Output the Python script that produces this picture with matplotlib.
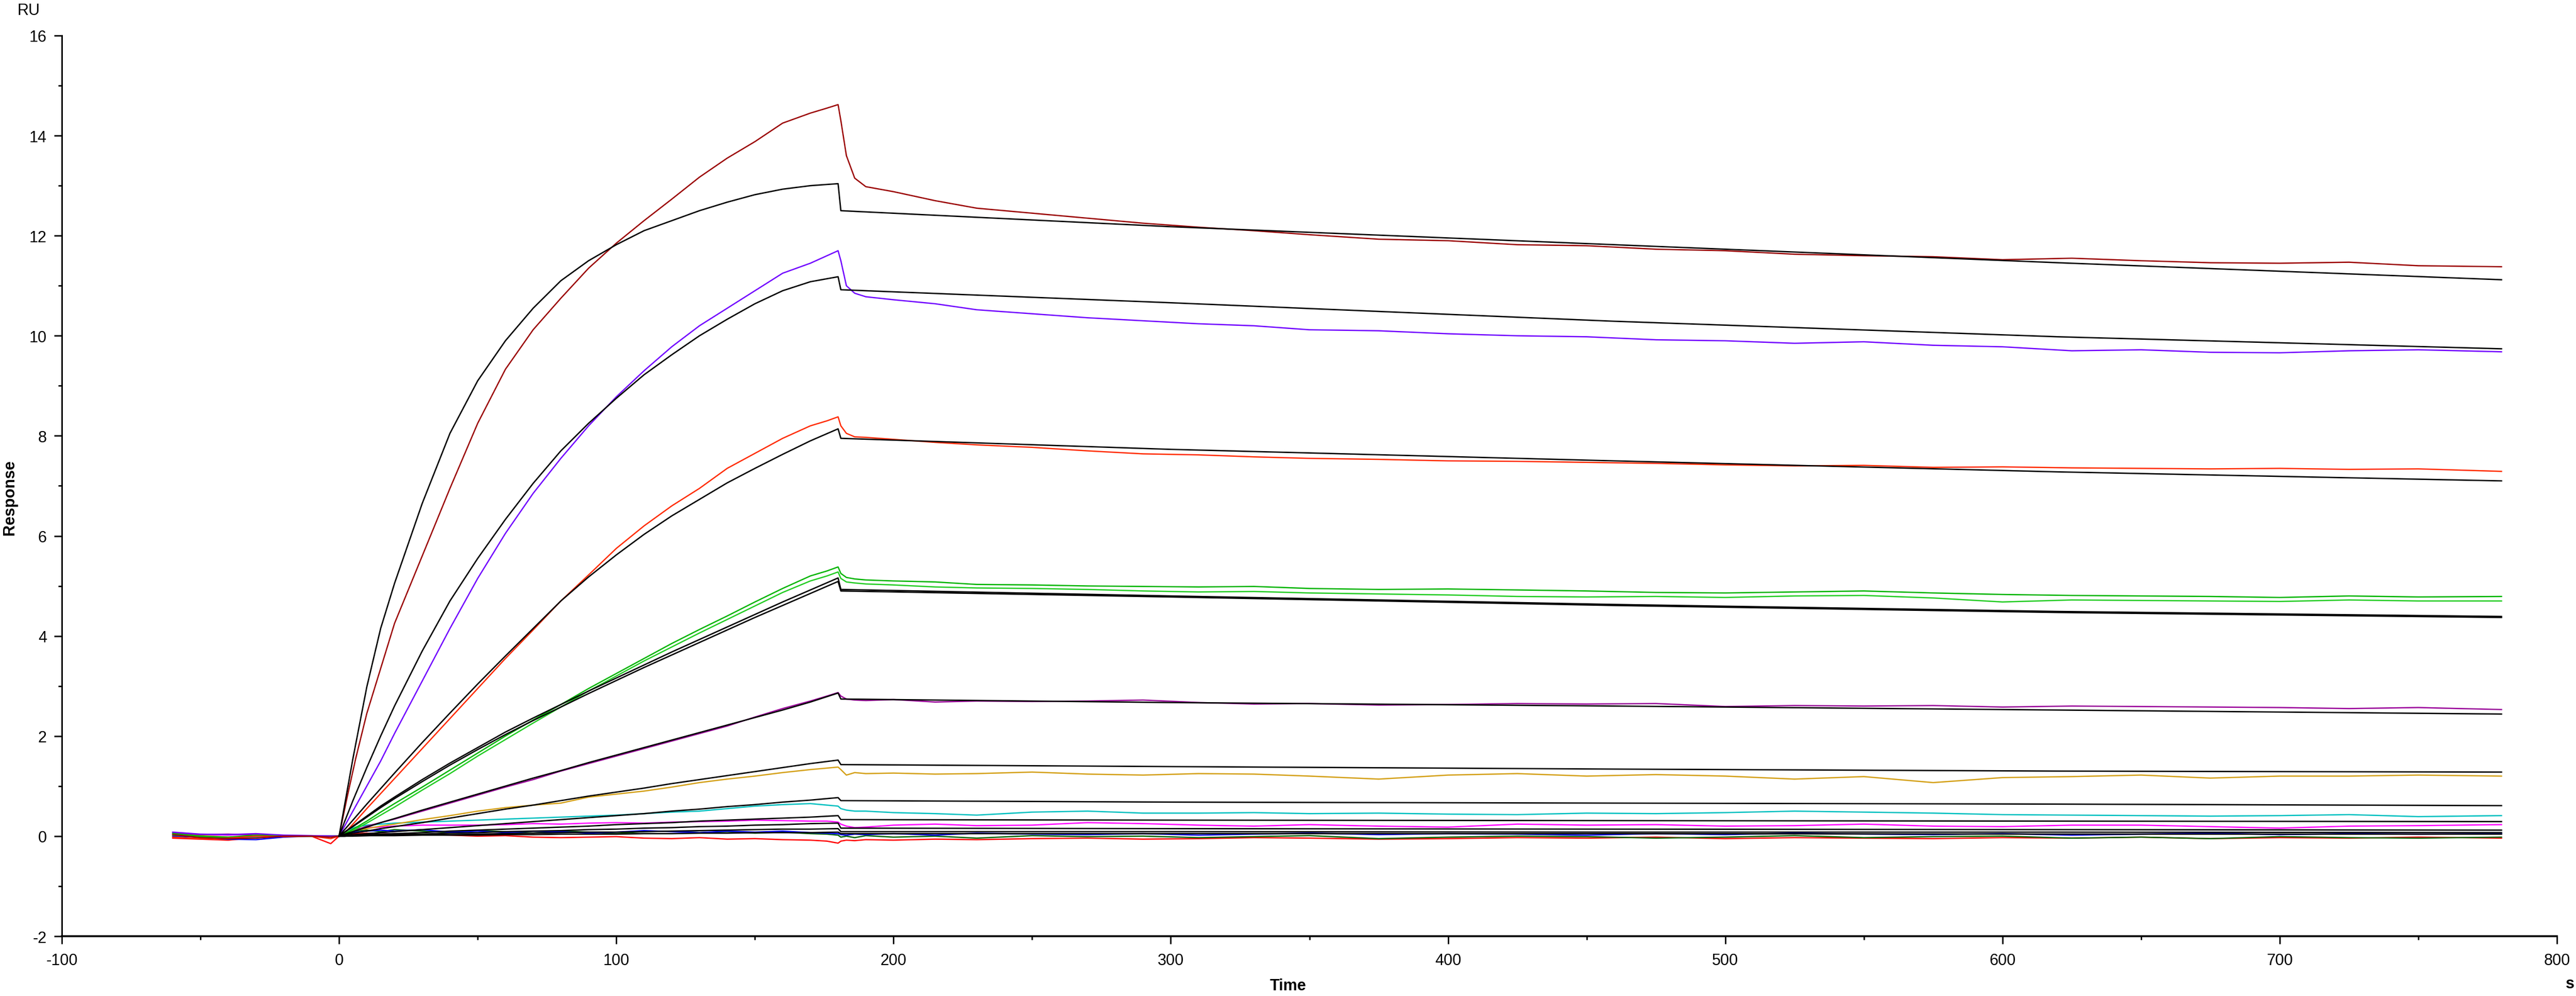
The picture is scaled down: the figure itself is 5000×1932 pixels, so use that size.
import matplotlib
matplotlib.use("Agg")
import matplotlib.pyplot as plt
from matplotlib.ticker import MultipleLocator

plt.rcParams['font.family'] = ['Liberation Sans', 'DejaVu Sans']
plt.rcParams['axes.unicode_minus'] = False

# time grid of the measured curves (s)
t_base = [-60, -50, -40, -30, -20, -10, -3, 0]
t_assoc = [3, 6, 10, 15, 20, 30, 40, 50, 60, 70, 80, 90, 100, 110, 120, 130, 140, 150, 160, 170, 176, 180]
t_diss = [181, 183, 186, 190, 200, 215, 230, 250, 270, 290, 310, 330, 350, 375, 400, 425, 450, 475,
          500, 525, 550, 575, 600, 625, 650, 675, 700, 725, 750, 780]

# measured responses (RU): baseline + association + dissociation
darkred = [0.03, -0.03, -0.05, -0.04, 0.0, 0.0, -0.02, 0.0,
           0.8, 1.55, 2.45, 3.35, 4.25, 5.6, 6.95, 8.25, 9.33, 10.12, 10.75, 11.35, 11.85, 12.3, 12.73,
           13.17, 13.55, 13.88, 14.25, 14.45, 14.55, 14.62,
           14.3, 13.6, 13.15, 12.98, 12.88, 12.7, 12.55, 12.45, 12.35, 12.25, 12.17, 12.1, 12.02, 11.93,
           11.9, 11.82, 11.8, 11.73, 11.7, 11.63, 11.6, 11.58, 11.52, 11.55, 11.5, 11.46, 11.45, 11.47,
           11.4, 11.38]
violet = [0.08, 0.04, 0.03, 0.05, 0.02, 0.01, 0.0, 0.0,
          0.3, 0.6, 1.0, 1.5, 2.05, 3.1, 4.15, 5.15, 6.05, 6.85, 7.55, 8.2, 8.78, 9.3, 9.78, 10.2, 10.55,
          10.9, 11.25, 11.45, 11.6, 11.7,
          11.5, 11.0, 10.85, 10.78, 10.72, 10.64, 10.52, 10.44, 10.36, 10.3, 10.24, 10.2, 10.12, 10.1,
          10.04, 10.0, 9.98, 9.92, 9.9, 9.85, 9.88, 9.81, 9.78, 9.7, 9.72, 9.67, 9.66, 9.7, 9.72, 9.68]
redorange = [-0.02, -0.05, -0.04, 0.0, -0.01, 0.0, -0.05, 0.0,
             0.12, 0.3, 0.55, 0.85, 1.15, 1.75, 2.35, 2.95, 3.55, 4.12, 4.7, 5.22, 5.75, 6.2, 6.6,
             6.95, 7.35, 7.65, 7.95, 8.2, 8.3, 8.38,
             8.2, 8.05, 7.98, 7.97, 7.93, 7.87, 7.82, 7.77, 7.7, 7.64, 7.62, 7.58, 7.55, 7.53, 7.5,
             7.49, 7.47, 7.45, 7.42, 7.4, 7.41, 7.37, 7.38, 7.36, 7.35, 7.34, 7.35, 7.33, 7.34, 7.29]
greenA = [0.05, 0.0, -0.02, 0.02, 0.0, 0.0, 0.0, 0.0,
          0.08, 0.17, 0.3, 0.48, 0.65, 0.98, 1.32, 1.66, 2.0, 2.32, 2.63, 2.95, 3.25, 3.55, 3.85,
          4.13, 4.4, 4.68, 4.95, 5.2, 5.3, 5.38,
          5.25, 5.17, 5.14, 5.12, 5.1, 5.08, 5.03, 5.02, 5.0, 4.99, 4.98, 4.99, 4.95, 4.93, 4.94,
          4.92, 4.9, 4.87, 4.86, 4.88, 4.9, 4.86, 4.83, 4.81, 4.8, 4.79, 4.77, 4.8, 4.78, 4.79]
greenB = [0.02, -0.01, -0.03, 0.0, 0.01, 0.0, -0.01, 0.0,
          0.06, 0.14, 0.26, 0.42, 0.58, 0.92, 1.25, 1.6, 1.93, 2.26, 2.58, 2.9, 3.2, 3.5, 3.78,
          4.06, 4.33, 4.6, 4.87, 5.1, 5.2, 5.28,
          5.15, 5.08, 5.06, 5.04, 5.02, 4.98, 4.96, 4.95, 4.93, 4.9, 4.88, 4.89, 4.86, 4.84, 4.82,
          4.79, 4.78, 4.79, 4.77, 4.8, 4.81, 4.76, 4.68, 4.72, 4.71, 4.7, 4.69, 4.72, 4.7, 4.7]
purple = [0.07, 0.03, 0.04, 0.02, 0.01, 0.0, 0.0, 0.0,
          0.06, 0.12, 0.2, 0.27, 0.34, 0.5, 0.66, 0.82, 0.98, 1.13, 1.3, 1.45, 1.6, 1.75, 1.9,
          2.05, 2.2, 2.38, 2.55, 2.7, 2.8, 2.87,
          2.8, 2.74, 2.72, 2.71, 2.73, 2.68, 2.7, 2.69, 2.7, 2.72, 2.67, 2.64, 2.65, 2.62, 2.63,
          2.65, 2.64, 2.65, 2.59, 2.61, 2.6, 2.61, 2.58, 2.6, 2.59, 2.58, 2.57, 2.55, 2.57, 2.53]
gold = [0.04, 0.01, -0.02, 0.0, 0.01, 0.0, 0.0, 0.0,
        0.08, 0.12, 0.15, 0.2, 0.24, 0.33, 0.41, 0.5, 0.57, 0.62, 0.66, 0.78, 0.84, 0.9, 0.98,
        1.07, 1.14, 1.2, 1.27, 1.33, 1.36, 1.38,
        1.33, 1.22, 1.27, 1.25, 1.26, 1.24, 1.25, 1.28, 1.24, 1.22, 1.25, 1.24, 1.2, 1.14, 1.22,
        1.25, 1.2, 1.23, 1.2, 1.14, 1.19, 1.07, 1.17, 1.19, 1.22, 1.16, 1.2, 1.2, 1.22, 1.2]
cyan = [0.03, 0.0, -0.03, -0.02, 0.0, 0.0, 0.0, 0.0,
        0.12, 0.18, 0.22, 0.24, 0.26, 0.28, 0.3, 0.32, 0.34, 0.36, 0.38, 0.4, 0.42, 0.45, 0.48,
        0.5, 0.55, 0.6, 0.63, 0.65, 0.62, 0.6,
        0.55, 0.52, 0.5, 0.5, 0.47, 0.45, 0.42, 0.48, 0.5, 0.46, 0.46, 0.47, 0.45, 0.46, 0.44,
        0.43, 0.46, 0.45, 0.47, 0.5, 0.48, 0.46, 0.43, 0.42, 0.41, 0.4, 0.41, 0.43, 0.39, 0.41]
magenta = [0.06, 0.03, 0.02, 0.04, 0.01, 0.0, 0.0, 0.0,
           0.08, 0.14, 0.17, 0.18, 0.2, 0.22, 0.22, 0.22, 0.23, 0.25, 0.24, 0.26, 0.27, 0.26, 0.28,
           0.29, 0.3, 0.32, 0.31, 0.3, 0.3, 0.28,
           0.24, 0.2, 0.17, 0.18, 0.22, 0.24, 0.21, 0.22, 0.27, 0.25, 0.22, 0.2, 0.23, 0.2, 0.18,
           0.24, 0.22, 0.23, 0.2, 0.21, 0.24, 0.2, 0.19, 0.22, 0.22, 0.19, 0.16, 0.2, 0.21, 0.23]
blue = [0.0, -0.02, -0.06, -0.07, -0.02, 0.0, 0.0, 0.0,
        0.05, 0.08, 0.1, 0.12, 0.1, 0.13, 0.08, 0.1, 0.07, 0.1, 0.09, 0.06, 0.08, 0.11, 0.09,
        0.07, 0.1, 0.08, 0.1, 0.07, 0.06, 0.05,
        0.03, 0.02, 0.04, 0.03, 0.05, 0.02, 0.06, 0.04, 0.03, 0.05, 0.02, 0.04, 0.06, 0.03, 0.05,
        0.04, 0.02, 0.05, 0.03, 0.06, 0.04, 0.03, 0.05, 0.02, 0.04, 0.06, 0.03, 0.05, 0.04, 0.05]
darkgreen = [0.02, -0.02, -0.04, -0.03, 0.0, 0.0, -0.02, 0.0,
             0.04, 0.1, 0.12, 0.09, 0.13, 0.1, 0.07, 0.11, 0.09, 0.06, 0.1, 0.08, 0.05, 0.09, 0.1,
             0.07, 0.09, 0.06, 0.08, 0.05, 0.04, 0.02,
             -0.02, 0.0, -0.03, 0.01, -0.02, 0.0, -0.04, 0.01, -0.01, 0.0, -0.03, -0.01, 0.01, -0.05,
             -0.02, 0.0, -0.01, -0.04, -0.02, 0.01, -0.03, -0.01, 0.0, -0.04, -0.02, -0.05, -0.01,
             -0.03, -0.04, -0.02]
red = [-0.04, -0.06, -0.08, -0.03, 0.0, 0.0, -0.15, 0.0,
       0.03, 0.05, 0.06, 0.04, 0.05, 0.03, 0.02, 0.0, 0.01, -0.02, -0.03, -0.02, -0.01, -0.04, -0.05,
       -0.03, -0.06, -0.05, -0.07, -0.08, -0.1, -0.14,
       -0.1, -0.08, -0.09, -0.07, -0.08, -0.06, -0.07, -0.05, -0.04, -0.06, -0.05, -0.03, -0.04,
       -0.06, -0.05, -0.03, -0.04, -0.02, -0.05, -0.03, -0.04, -0.05, -0.03, -0.04, -0.02, -0.05,
       -0.03, -0.04, -0.02, -0.04]

# fitted curves (black)
t_fit = [0, 2, 5, 10, 15, 20, 30, 40, 50, 60, 70, 80, 90, 100, 110, 120, 130, 140, 150, 160, 170, 180,
         181, 300, 460, 620, 780]
fit1 = [0, 0.62, 1.55, 2.98, 4.15, 5.05, 6.65, 8.05, 9.1, 9.9, 10.55, 11.1, 11.5, 11.82, 12.1, 12.3,
        12.5, 12.67, 12.82, 12.93, 13.0, 13.04, 12.5, 12.18, 11.82, 11.46, 11.12]
fit2 = [0, 0.29, 0.71, 1.37, 2.0, 2.6, 3.7, 4.7, 5.55, 6.33, 7.05, 7.7, 8.25, 8.75, 9.22, 9.62, 10.0,
        10.33, 10.64, 10.9, 11.08, 11.18, 10.92, 10.66, 10.29, 9.98, 9.74]
fit3 = [0, 0.13, 0.32, 0.64, 0.95, 1.26, 1.87, 2.46, 3.04, 3.6, 4.15, 4.7, 5.18, 5.62, 6.03, 6.4, 6.73,
        7.06, 7.35, 7.63, 7.9, 8.14, 7.95, 7.73, 7.5, 7.28, 7.1]
fit4a = [0, 0.08, 0.2, 0.4, 0.6, 0.78, 1.13, 1.46, 1.77, 2.08, 2.36, 2.63, 2.9, 3.16, 3.42, 3.68, 3.93,
         4.18, 4.43, 4.68, 4.92, 5.16, 4.93, 4.8, 4.63, 4.49, 4.39]
fit4b = [0, 0.08, 0.19, 0.38, 0.57, 0.75, 1.09, 1.42, 1.73, 2.03, 2.31, 2.58, 2.85, 3.11, 3.37, 3.62,
         3.87, 4.12, 4.37, 4.61, 4.85, 5.09, 4.9, 4.78, 4.61, 4.47, 4.37]
fit5 = [0, 0.04, 0.09, 0.18, 0.27, 0.35, 0.52, 0.68, 0.84, 1.0, 1.16, 1.31, 1.47, 1.62, 1.77, 1.92,
        2.07, 2.22, 2.37, 2.52, 2.68, 2.86, 2.74, 2.67, 2.6, 2.52, 2.44]
fit6 = [0, 0.03, 0.06, 0.1, 0.15, 0.19, 0.27, 0.36, 0.45, 0.54, 0.62, 0.71, 0.8, 0.88, 0.96, 1.05,
        1.13, 1.21, 1.29, 1.37, 1.45, 1.52, 1.43, 1.39, 1.34, 1.3, 1.28]
fit7 = [0, 0.01, 0.03, 0.05, 0.07, 0.09, 0.13, 0.17, 0.21, 0.25, 0.29, 0.33, 0.37, 0.41, 0.45, 0.5,
        0.54, 0.59, 0.63, 0.68, 0.72, 0.77, 0.71, 0.68, 0.66, 0.64, 0.61]
fit8 = [0, 0.01, 0.02, 0.03, 0.04, 0.05, 0.07, 0.1, 0.12, 0.14, 0.16, 0.18, 0.2, 0.23, 0.25, 0.27,
        0.3, 0.32, 0.34, 0.36, 0.38, 0.41, 0.33, 0.32, 0.31, 0.3, 0.29]
fit9 = [0, 0.0, 0.01, 0.02, 0.02, 0.03, 0.04, 0.06, 0.07, 0.09, 0.1, 0.11, 0.13, 0.14, 0.16, 0.17,
        0.19, 0.2, 0.22, 0.23, 0.25, 0.26, 0.16, 0.15, 0.14, 0.13, 0.12]
fit10 = [0, 0.0, 0.01, 0.01, 0.02, 0.02, 0.03, 0.03, 0.04, 0.05, 0.06, 0.07, 0.08, 0.08, 0.09, 0.1,
         0.11, 0.12, 0.13, 0.14, 0.14, 0.15, 0.09, 0.09, 0.08, 0.08, 0.07]
fit11 = [0, 0, 0, 0.01, 0.01, 0.01, 0.02, 0.02, 0.02, 0.03, 0.03, 0.04, 0.04, 0.04, 0.05, 0.05, 0.06,
         0.06, 0.07, 0.07, 0.07, 0.08, 0.05, 0.05, 0.05, 0.04, 0.04]

t_data = t_base + t_assoc + t_diss
curves = [red, darkgreen, blue, magenta, cyan, gold, purple, greenB, greenA, redorange, violet, darkred]
colors = ['#ff0000', '#006400', '#0000ff', '#ff00ff', '#00c0c0', '#d4a017', '#990099',
          '#22cc22', '#00b400', '#ff2a00', '#7000ff', '#9a0000']
fits = [fit11, fit10, fit9, fit8, fit7, fit6, fit5, fit4b, fit4a, fit3, fit2, fit1]

fig = plt.figure(figsize=(50, 19.33), dpi=100)
ax = fig.add_axes([0.024, 0.06, 0.9686, 0.9038])

for y, c in zip(curves, colors):
    ax.plot(t_data, y, color=c, lw=1.8)
for f in fits:
    ax.plot(t_fit, f, color='black', lw=1.9)

ax.set_xlim(-100, 800)
ax.set_ylim(-2, 16)
ax.spines['top'].set_visible(False)
ax.spines['right'].set_visible(False)
ax.spines['left'].set_linewidth(2.2)
ax.spines['bottom'].set_linewidth(2.6)
ax.xaxis.set_major_locator(MultipleLocator(100))
ax.xaxis.set_minor_locator(MultipleLocator(50))
ax.yaxis.set_major_locator(MultipleLocator(2))
ax.yaxis.set_minor_locator(MultipleLocator(1))
ax.tick_params(which='major', direction='out', length=11, width=2, labelsize=22)
ax.tick_params(axis='x', which='major', pad=12)
ax.tick_params(axis='y', which='major', pad=10)
ax.tick_params(which='minor', direction='out', length=5, width=2)

fig.text(0.5, 0.0103, 'Time', ha='center', va='center', fontsize=22, fontweight='bold')
fig.text(0.0039, 0.5008, 'Response', ha='center', va='center', rotation=90,
         fontsize=22, fontweight='bold')
fig.text(0.0112, 0.9891, 'RU', ha='center', va='center', fontsize=22)
fig.text(0.9976, 0.0125, 's', ha='center', va='center', fontsize=22, fontweight='bold')

fig.savefig('out.png', dpi=100)
